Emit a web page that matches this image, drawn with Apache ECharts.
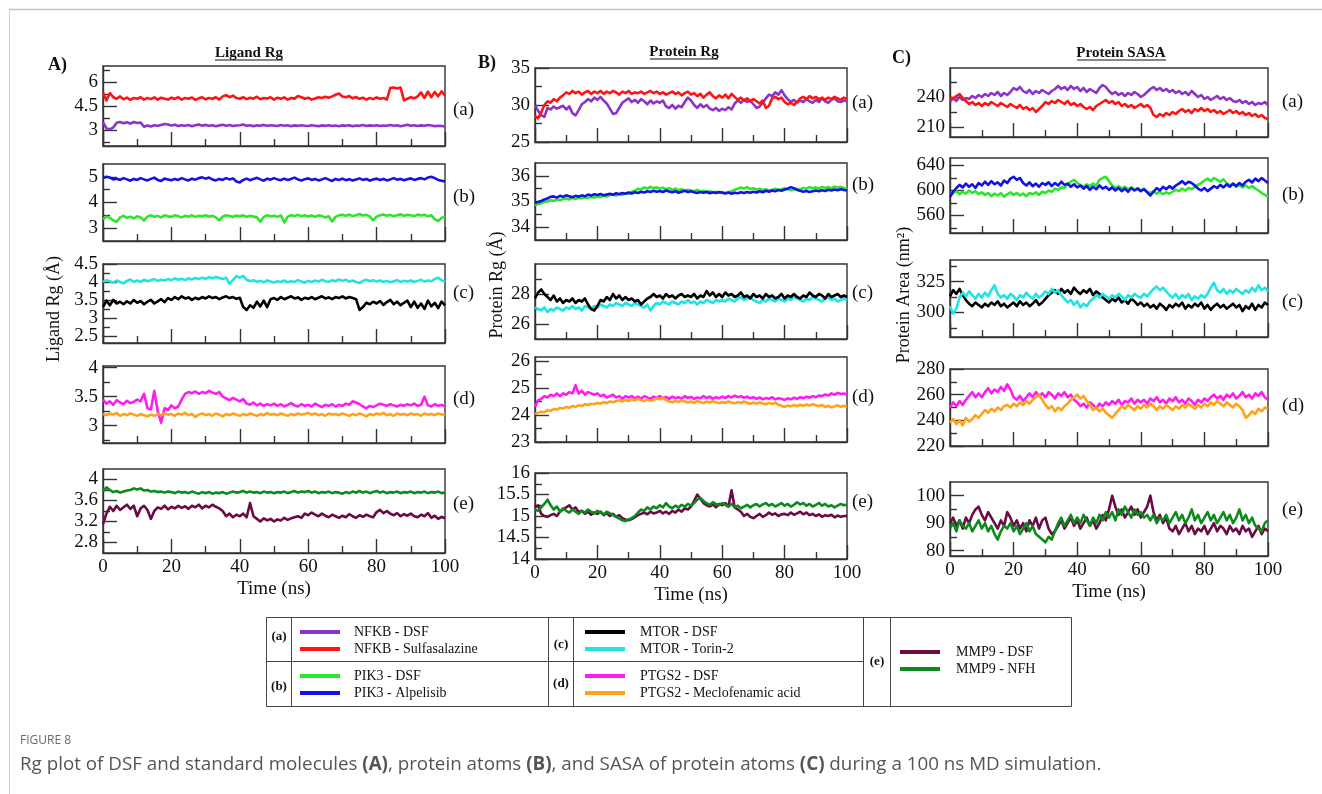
<!DOCTYPE html>
<html><head><meta charset="utf-8">
<script src="https://cdn.jsdelivr.net/npm/echarts@6/dist/echarts.min.js"></script>
<style>html,body{margin:0;padding:0;background:#fff}#c{width:1322px;height:794px}</style>
</head><body><div id="c"></div><script>
// ---------------- DATA ----------------
const TIME_NS = Array.from({length: 101}, (_, i) => i);   // 0..100 ns, 1 ns step

// Column A : Ligand Rg (Å)
const A_a_NFKB_DSF = [3.5,3.1,3.05,3.15,3.45,3.5,3.42,3.48,3.4,3.5, 3.44,3.47,3.2,3.28,3.22,3.3,3.26,3.32,3.38,3.34, 3.28,3.33,3.25,3.3,3.27,3.31,3.24,3.3,3.34,3.27, 3.32,3.26,3.3,3.24,3.29,3.33,3.27,3.31,3.25,3.28, 3.3,3.34,3.26,3.3,3.23,3.29,3.27,3.32,3.26,3.3, 3.28,3.25,3.31,3.27,3.3,3.24,3.29,3.26,3.3,3.27, 3.25,3.3,3.27,3.24,3.29,3.26,3.3,3.25,3.28,3.24, 3.29,3.26,3.3,3.24,3.28,3.26,3.31,3.25,3.29,3.27, 3.3,3.25,3.28,3.26,3.31,3.27,3.3,3.24,3.28,3.33, 3.27,3.3,3.25,3.29,3.26,3.31,3.28,3.24,3.27,3.25, 3.22];
const A_a_NFKB_SUL = [5.35,4.85,5.3,5.05,4.95,5.1,4.92,5.02,4.88,5.0, 4.95,5.05,4.9,5.0,4.93,5.04,4.9,5.02,4.96,4.9, 5.02,4.94,5.05,4.9,5.0,4.95,5.03,4.88,4.98,5.04, 4.92,5.0,4.95,5.05,4.9,5.1,5.18,5.05,5.15,5.0, 4.95,5.05,4.93,5.02,4.96,5.08,4.92,5.0,4.97,5.05, 4.9,5.02,4.95,5.04,4.9,5.0,4.96,5.12,5.05,4.95, 5.02,4.9,4.97,5.05,5.0,5.08,5.02,5.1,5.2,5.28, 5.1,5.05,5.12,4.98,5.06,4.95,5.02,4.9,5.0,4.93, 5.04,4.95,5.0,4.9,5.62,5.66,5.6,5.65,4.85,4.95, 5.05,4.98,5.1,5.35,5.0,5.4,5.05,5.38,5.1,5.42, 5.15];
const A_b_PIK3_DSF = [3.35,3.45,3.4,3.3,3.25,3.42,3.48,3.4,3.45,3.38, 3.46,3.42,3.3,3.45,3.5,3.44,3.48,3.42,3.5,3.46, 3.44,3.5,3.47,3.42,3.48,3.45,3.5,3.44,3.48,3.46, 3.5,3.45,3.48,3.42,3.3,3.45,3.5,3.47,3.44,3.49, 3.46,3.5,3.44,3.48,3.45,3.42,3.25,3.44,3.5,3.46, 3.48,3.44,3.5,3.22,3.45,3.5,3.47,3.52,3.46,3.5, 3.45,3.49,3.44,3.5,3.47,3.42,3.46,3.26,3.44,3.5, 3.52,3.48,3.53,3.47,3.5,3.55,3.49,3.52,3.46,3.3, 3.45,3.5,3.53,3.48,3.52,3.46,3.5,3.54,3.48,3.52, 3.5,3.47,3.53,3.49,3.52,3.46,3.5,3.35,3.28,3.4, 3.45];
const A_b_PIK3_ALP = [4.95,5.0,4.97,4.9,4.93,4.88,4.95,4.9,4.85,4.92, 4.88,4.95,4.9,4.86,4.92,4.97,4.88,4.84,4.93,4.9, 4.87,4.92,4.88,4.95,4.9,4.86,4.93,4.89,4.95,4.98, 4.93,4.97,4.9,4.86,4.92,4.88,4.95,4.9,4.94,4.82, 4.78,4.88,4.93,4.87,4.92,4.96,4.9,4.85,4.93,4.89, 4.95,4.9,4.87,4.93,4.88,4.92,4.97,4.9,4.86,4.91, 4.94,4.88,4.92,4.86,4.9,4.95,4.89,4.84,4.92,4.88, 4.93,4.87,4.91,4.86,4.9,4.94,4.88,4.92,4.85,4.9, 4.93,4.88,4.92,4.86,4.9,4.95,4.89,4.92,4.87,4.91, 4.94,4.88,4.92,4.95,4.9,4.97,5.0,4.95,4.88,4.85, 4.82];
const A_c_MTOR_DSF = [3.3,3.48,3.35,3.5,3.4,3.45,3.38,3.46,3.4,3.5, 3.42,3.47,3.38,3.45,3.5,3.4,3.46,3.52,3.44,3.55, 3.5,3.58,3.52,3.6,3.54,3.57,3.5,3.56,3.52,3.58, 3.54,3.6,3.55,3.58,3.52,3.57,3.6,3.55,3.58,3.53, 3.56,3.3,3.22,3.35,3.28,3.45,3.32,3.48,3.3,3.52, 3.55,3.5,3.58,3.52,3.56,3.6,3.54,3.57,3.5,3.56, 3.53,3.58,3.52,3.56,3.6,3.54,3.57,3.52,3.58,3.55, 3.6,3.54,3.58,3.55,3.52,3.22,3.3,3.42,3.38,3.45, 3.4,3.47,3.36,3.44,3.5,3.38,3.45,3.35,3.42,3.48, 3.3,3.45,3.28,3.4,3.25,3.48,3.32,3.42,3.27,3.45, 3.35];
const A_c_MTOR_TOR = [4.0,4.05,4.02,3.98,4.04,4.0,3.96,4.03,4.07,4.0, 4.04,4.0,4.06,4.02,4.05,4.08,4.03,4.06,4.04,4.08, 4.05,4.1,4.06,4.09,4.05,4.1,4.07,4.11,4.08,4.12, 4.09,4.13,4.1,4.14,4.11,4.08,4.12,3.95,4.05,4.16, 4.12,4.17,4.06,4.02,4.05,4.0,4.03,3.99,4.04,4.01, 3.98,4.02,4.0,4.04,3.99,4.02,4.0,4.05,4.01,3.98, 4.03,4.0,4.04,4.01,4.06,4.02,4.0,4.05,4.02,4.07, 4.03,4.06,4.01,4.04,4.0,3.97,4.03,4.06,4.02,4.05, 4.01,4.04,4.0,4.03,3.99,4.02,4.05,4.0,4.03,4.01, 4.04,4.0,4.03,4.06,4.01,4.04,4.02,4.08,4.12,4.05, 4.0];
const A_d_PTGS2_DSF = [3.45,3.38,3.42,3.36,3.44,3.4,3.37,3.43,3.39,3.41, 3.45,3.42,3.55,3.3,3.28,3.6,3.25,3.05,3.3,3.27, 3.35,3.3,3.33,3.45,3.55,3.58,3.56,3.59,3.55,3.58, 3.56,3.6,3.57,3.55,3.58,3.5,3.47,3.44,3.48,3.45, 3.42,3.46,3.38,3.36,3.4,3.35,3.38,3.34,3.37,3.35, 3.38,3.34,3.37,3.33,3.36,3.39,3.35,3.33,3.37,3.34, 3.36,3.33,3.38,3.35,3.32,3.36,3.34,3.37,3.33,3.36, 3.34,3.38,3.36,3.42,3.4,3.37,3.33,3.3,3.34,3.32, 3.35,3.38,3.36,3.34,3.37,3.35,3.33,3.36,3.34,3.37, 3.35,3.38,3.34,3.36,3.5,3.35,3.33,3.37,3.34,3.36, 3.33];
const A_d_PTGS2_MEC = [3.2,3.18,3.21,3.19,3.22,3.17,3.2,3.18,3.21,3.19, 3.17,3.2,3.18,3.16,3.19,3.17,3.2,3.18,3.21,3.19, 3.2,3.17,3.21,3.19,3.22,3.18,3.2,3.15,3.19,3.21, 3.18,3.2,3.17,3.21,3.19,3.16,3.2,3.18,3.21,3.19, 3.17,3.2,3.18,3.21,3.19,3.17,3.2,3.18,3.22,3.19, 3.2,3.18,3.21,3.19,3.17,3.2,3.18,3.21,3.19,3.2, 3.22,3.19,3.21,3.18,3.2,3.17,3.21,3.19,3.2,3.18, 3.21,3.19,3.17,3.2,3.18,3.21,3.19,3.16,3.2,3.18, 3.21,3.19,3.22,3.18,3.2,3.17,3.21,3.19,3.2,3.18, 3.21,3.19,3.2,3.17,3.21,3.19,3.2,3.18,3.21,3.19, 3.2];
const A_e_MMP9_DSF = [3.15,3.35,3.48,3.4,3.5,3.42,3.47,3.52,3.44,3.5, 3.3,3.45,3.5,3.42,3.25,3.4,3.47,3.44,3.5,3.43, 3.48,3.45,3.5,3.46,3.49,3.44,3.5,3.47,3.52,3.45, 3.5,3.47,3.52,3.48,3.45,3.4,3.3,3.35,3.28,3.33, 3.3,3.35,3.28,3.55,3.3,3.25,3.2,3.26,3.22,3.25, 3.2,3.24,3.22,3.27,3.23,3.26,3.28,3.3,3.27,3.35, 3.32,3.37,3.33,3.3,3.35,3.31,3.28,3.33,3.3,3.27, 3.31,3.28,3.34,3.3,3.27,3.32,3.29,3.33,3.3,3.28, 3.38,3.42,3.36,3.4,3.35,3.32,3.36,3.3,3.34,3.31, 3.35,3.3,3.28,3.33,3.3,3.36,3.27,3.31,3.25,3.29, 3.26];
const A_e_MMP9_NFH = [3.78,3.85,3.8,3.76,3.78,3.75,3.77,3.79,3.8,3.83, 3.81,3.83,3.79,3.8,3.77,3.78,3.76,3.77,3.75,3.77, 3.76,3.74,3.77,3.75,3.76,3.74,3.77,3.75,3.73,3.76, 3.74,3.76,3.73,3.75,3.74,3.76,3.73,3.75,3.77,3.75, 3.76,3.78,3.75,3.77,3.75,3.76,3.74,3.77,3.75,3.76, 3.74,3.76,3.75,3.77,3.74,3.76,3.78,3.75,3.77,3.76, 3.78,3.75,3.77,3.74,3.76,3.75,3.77,3.74,3.76,3.75, 3.73,3.76,3.74,3.77,3.75,3.78,3.75,3.77,3.74,3.76, 3.78,3.75,3.77,3.74,3.76,3.75,3.77,3.74,3.76,3.75, 3.77,3.74,3.76,3.75,3.77,3.74,3.76,3.75,3.77,3.74, 3.75];

// Column B : Protein Rg (Å)
const B_a_NFKB_DSF = [30.0,29.2,28.6,28.4,29.6,29.4,29.8,29.5,29.7,29.9, 29.4,29.8,28.9,28.6,29.3,30.1,30.4,30.8,30.5,31.0, 30.7,31.1,30.6,30.2,29.5,28.8,28.9,29.6,30.3,30.6, 30.9,30.4,30.7,30.3,30.8,30.5,30.1,30.6,30.2,30.5, 30.3,30.6,29.8,29.6,30.0,29.5,29.9,29.7,30.4,31.0, 30.6,30.0,29.6,30.1,29.7,30.0,29.5,29.3,29.6,29.2, 29.5,29.3,29.7,29.4,30.2,30.6,30.3,30.7,30.4,30.6, 30.1,29.6,29.8,30.3,30.9,31.4,31.2,31.7,31.4,32.0, 31.3,30.8,30.4,30.7,30.3,30.6,30.4,30.8,30.5,30.3, 30.7,30.4,30.9,30.5,30.3,30.7,30.9,30.5,30.4,30.6, 30.5];
const B_a_NFKB_SUL = [28.5,28.2,29.0,30.0,30.5,30.3,30.8,30.5,31.0,31.3, 31.7,31.5,31.9,31.6,31.8,31.4,31.7,31.9,31.5,31.8, 31.6,31.9,31.5,31.8,31.6,31.9,31.7,31.4,31.8,31.6, 31.9,31.5,31.7,31.6,31.8,31.5,31.7,31.9,31.6,31.8, 31.5,31.7,31.4,31.6,31.8,31.5,31.7,31.3,31.6,31.8, 31.4,31.6,31.2,31.5,31.0,31.4,31.7,31.2,30.9,31.3, 31.0,31.4,30.9,31.5,31.1,30.7,31.0,30.6,30.9,30.5, 30.8,30.5,30.2,30.6,29.6,29.9,30.9,31.1,30.8,31.0, 30.4,30.1,30.3,30.0,30.4,30.9,31.1,30.8,31.2,30.9, 31.1,30.8,31.0,30.7,31.0,30.8,31.1,30.9,30.7,31.0, 30.8];
const B_b_PIK3_DSF = [34.85,34.9,34.93,34.98,35.0,35.05,35.02,35.08,35.05,35.1, 35.12,35.08,35.14,35.1,35.15,35.12,35.17,35.13,35.18,35.15, 35.2,35.17,35.22,35.19,35.24,35.27,35.23,35.3,35.26,35.33, 35.3,35.38,35.42,35.5,35.47,35.55,35.5,35.57,35.52,35.55, 35.5,35.54,35.48,35.52,35.45,35.5,35.44,35.48,35.42,35.46, 35.43,35.4,35.45,35.38,35.42,35.36,35.4,35.35,35.38,35.34, 35.37,35.33,35.36,35.4,35.45,35.5,35.55,35.5,35.56,35.48, 35.52,35.46,35.5,35.44,35.48,35.42,35.46,35.5,35.45,35.48, 35.52,35.48,35.44,35.47,35.5,35.46,35.53,35.5,35.56,35.52, 35.55,35.5,35.57,35.53,35.56,35.52,35.58,35.54,35.57,35.53, 35.5];
const B_b_PIK3_ALP = [34.95,34.98,35.02,35.08,35.12,35.18,35.2,35.15,35.22,35.18, 35.24,35.2,35.17,35.22,35.19,35.24,35.2,35.27,35.23,35.28, 35.25,35.29,35.24,35.27,35.3,35.26,35.32,35.28,35.33,35.3, 35.35,35.31,35.36,35.33,35.38,35.35,35.4,35.37,35.42,35.38, 35.41,35.37,35.43,35.39,35.36,35.4,35.34,35.38,35.42,35.37, 35.4,35.36,35.33,35.37,35.34,35.38,35.32,35.36,35.33,35.37, 35.34,35.31,35.35,35.3,35.34,35.32,35.36,35.33,35.37,35.34, 35.38,35.35,35.4,35.36,35.42,35.38,35.43,35.4,35.45,35.42, 35.47,35.5,35.56,35.52,35.45,35.42,35.38,35.41,35.37,35.4, 35.43,35.4,35.44,35.41,35.46,35.43,35.47,35.44,35.48,35.45, 35.43];
const B_c_MTOR_DSF = [27.7,28.1,28.3,28.0,27.8,27.6,27.9,27.5,27.7,27.4, 27.6,27.5,27.7,27.4,27.6,27.5,27.7,27.3,27.0,26.9, 27.2,27.6,27.5,27.8,27.6,28.0,27.7,27.9,27.6,27.8, 27.6,27.7,27.5,27.6,27.3,27.5,27.7,27.8,28.0,27.8, 27.9,27.7,28.0,27.8,27.9,27.7,27.9,28.0,27.8,27.9, 27.8,28.0,27.7,27.9,27.8,28.2,27.9,28.1,27.8,28.0, 27.8,28.1,27.9,28.0,27.8,27.9,28.1,27.8,27.9,27.7, 28.0,27.8,27.9,27.7,28.0,27.8,27.9,27.7,27.8,28.0, 27.7,27.9,27.8,28.0,27.8,27.7,27.9,27.8,28.1,27.9, 27.8,28.0,27.9,27.7,28.0,27.8,27.9,28.0,27.8,27.9, 27.8];
const B_c_MTOR_TOR = [27.1,27.0,26.9,27.1,26.8,27.0,26.9,27.1,27.0,26.9, 27.1,27.0,27.2,27.0,27.1,26.9,27.2,27.1,27.0,27.2, 27.1,27.3,27.2,27.1,27.3,27.2,27.4,27.3,27.2,27.4, 27.3,27.2,27.4,27.3,27.2,27.1,27.3,26.9,27.2,27.4, 27.3,27.5,27.4,27.3,27.5,27.4,27.3,27.5,27.4,27.6, 27.4,27.5,27.3,27.5,27.4,27.6,27.5,27.4,27.6,27.5, 27.6,27.5,27.7,27.6,27.5,27.7,27.8,27.6,27.7,27.8, 27.6,27.5,27.4,27.6,27.5,27.7,27.6,27.5,27.7,27.6, 27.5,27.7,27.6,27.8,27.7,27.6,27.5,27.7,27.6,27.8, 27.7,27.6,27.5,27.7,27.8,27.6,27.7,27.5,27.6,27.7, 27.6];
const B_d_PTGS2_DSF = [24.3,24.55,24.6,24.7,24.65,24.75,24.7,24.8,24.7,24.8, 24.75,24.85,24.8,25.1,24.8,24.9,24.75,24.85,24.8,24.75, 24.8,24.7,24.75,24.65,24.7,24.75,24.65,24.7,24.6,24.7, 24.65,24.7,24.62,24.68,24.6,24.7,24.65,24.6,24.68,24.63, 24.7,24.62,24.67,24.6,24.68,24.62,24.66,24.6,24.7,24.63, 24.67,24.6,24.65,24.62,24.7,24.63,24.68,24.6,24.66,24.62, 24.68,24.63,24.7,24.65,24.72,24.66,24.7,24.64,24.68,24.62, 24.66,24.6,24.65,24.58,24.63,24.6,24.66,24.58,24.62,24.6, 24.56,24.62,24.58,24.64,24.6,24.66,24.62,24.68,24.64,24.7, 24.66,24.72,24.7,24.76,24.72,24.8,24.75,24.82,24.78,24.8, 24.75];
const B_d_PTGS2_MEC = [24.05,24.08,24.12,24.1,24.18,24.15,24.22,24.2,24.26,24.24, 24.3,24.27,24.33,24.3,24.36,24.33,24.4,24.37,24.42,24.4, 24.45,24.42,24.48,24.44,24.5,24.47,24.52,24.55,24.5,24.56, 24.52,24.58,24.54,24.6,24.55,24.52,24.57,24.53,24.56,24.62, 24.58,24.65,24.55,24.5,24.47,24.52,24.48,24.54,24.5,24.46, 24.5,24.45,24.52,24.48,24.44,24.5,24.46,24.52,24.47,24.44, 24.48,24.45,24.5,24.46,24.43,24.48,24.44,24.5,24.45,24.42, 24.46,24.42,24.47,24.43,24.4,24.45,24.41,24.46,24.38,24.34, 24.3,24.35,24.32,24.37,24.33,24.38,24.34,24.39,24.35,24.4, 24.36,24.33,24.37,24.3,24.34,24.28,24.32,24.36,24.3,24.34, 24.3];
const B_e_MMP9_DSF = [15.2,15.25,15.05,15.0,14.98,15.02,15.05,15.0,15.1,15.15, 15.2,15.25,15.15,15.2,15.1,15.12,15.05,15.1,15.03,15.08, 15.05,15.1,15.02,15.07,15.0,15.05,14.98,15.02,14.95,14.92, 14.9,14.93,14.97,15.02,15.05,15.08,15.04,15.1,15.06,15.08, 15.12,15.06,15.1,15.05,15.12,15.08,15.15,15.1,15.18,15.15, 15.22,15.35,15.5,15.4,15.3,15.25,15.22,15.27,15.2,15.28, 15.25,15.3,15.22,15.6,15.2,15.15,15.1,15.0,15.05,14.98, 14.95,15.0,15.05,14.98,15.02,15.08,15.03,15.06,15.0,15.04, 15.05,15.02,15.08,15.03,15.06,15.1,15.04,15.08,15.02,15.05, 15.0,15.04,14.98,15.02,15.0,15.03,14.97,15.01,14.98,15.0, 15.0];
const B_e_MMP9_NFH = [15.15,15.12,15.2,15.28,15.38,15.25,15.15,15.22,15.1,15.18, 15.12,15.08,15.15,15.1,15.05,15.12,15.08,15.15,15.1,15.06, 15.12,15.08,15.04,15.1,15.06,15.02,14.98,14.94,14.9,14.88, 14.92,14.95,15.0,15.08,15.15,15.12,15.2,15.15,15.22,15.18, 15.25,15.2,15.3,15.22,15.18,15.24,15.2,15.26,15.22,15.28, 15.24,15.3,15.38,15.42,15.35,15.3,15.26,15.32,15.28,15.25, 15.3,15.26,15.22,15.28,15.2,15.24,15.18,15.22,15.26,15.2, 15.25,15.28,15.22,15.27,15.3,15.24,15.28,15.22,15.26,15.3, 15.24,15.28,15.22,15.26,15.32,15.27,15.3,15.24,15.28,15.22, 15.26,15.3,15.24,15.28,15.22,15.25,15.2,15.24,15.28,15.25, 15.27];

// Column C : Protein SASA (nm²)
const C_a_NFKB_DSF = [235,239,236,240,237,239,238,241,239,242, 240,243,241,244,242,245,241,244,242,245, 249,247,250,246,244,247,243,246,244,247, 245,243,246,248,251,248,250,247,251,248, 250,246,249,245,248,246,244,249,252,250, 246,243,245,242,244,241,244,242,245,243, 240,242,245,248,250,247,249,246,248,245, 247,244,246,243,245,242,246,243,240,242, 238,240,237,239,241,238,240,237,239,236, 235,237,234,236,233,235,232,234,233,235, 232];
const C_a_NFKB_SUL = [240,238,241,243,239,236,233,235,232,234, 231,234,232,235,233,231,234,232,230,233, 231,229,232,228,230,227,229,225,228,231, 235,233,236,234,237,235,233,236,232,234, 231,233,230,228,230,227,231,233,235,237, 234,236,233,235,231,233,230,232,229,231, 233,230,232,229,222,220,223,221,224,222, 225,223,226,228,225,227,224,228,226,229, 226,228,225,227,224,226,223,225,227,224, 226,223,225,222,224,221,223,220,222,219, 218];
const C_b_PIK3_DSF = [592,596,599,594,598,595,600,596,599,594, 597,593,596,591,595,592,596,590,594,597, 593,596,592,595,591,596,594,597,593,598, 596,600,598,603,601,605,604,610,614,617, 612,609,606,610,607,611,608,617,620,622, 615,608,604,607,603,606,602,605,601,604, 600,603,598,596,599,595,598,594,597,595, 598,601,599,603,600,604,602,606,609,612, 616,619,615,620,617,614,618,612,608,611, 606,609,605,608,604,607,603,600,596,593, 590];
const C_b_PIK3_ALP = [590,598,604,609,605,611,606,610,604,612, 608,614,609,615,610,613,608,616,612,619, 622,617,620,612,608,613,607,611,606,612, 609,613,607,612,608,614,609,611,606,610, 605,608,603,607,601,606,602,608,603,606, 601,605,600,604,599,603,598,604,600,603, 599,602,597,592,598,604,600,606,602,607, 603,608,611,615,610,614,612,608,603,600, 604,599,603,607,604,609,605,610,606,611, 607,612,608,614,617,613,619,615,620,616, 612];
const C_c_MTOR_DSF = [313,318,315,319,314,310,307,305,308,306, 304,307,305,308,306,309,305,307,304,306, 308,305,309,306,308,305,307,310,306,308, 311,314,316,318,315,319,316,318,315,320, 317,315,318,316,319,314,317,315,312,310, 308,311,309,312,308,310,307,311,309,306, 308,305,307,304,306,303,307,305,302,306, 304,307,305,308,303,306,304,307,305,308, 303,306,302,305,307,304,306,303,305,307, 304,306,301,305,303,307,302,306,304,308, 306];
const C_c_MTOR_TOR = [305,299,303,312,316,313,317,314,311,315, 312,316,313,318,322,315,312,314,311,315, 313,310,314,312,316,313,311,315,312,314, 317,315,319,316,318,314,311,308,310,306, 309,304,307,305,309,311,314,312,315,313, 311,314,312,315,313,310,314,312,315,313, 312,315,313,316,319,321,318,320,317,314, 312,315,311,314,312,315,310,313,311,314, 312,315,320,324,318,316,319,315,318,316, 319,317,315,318,316,320,317,322,318,320, 317];
const C_d_PTGS2_DSF = [250,254,251,255,252,256,259,262,258,261, 258,262,265,261,264,262,266,263,268,264, 258,256,259,255,258,261,258,262,259,261, 258,262,260,257,261,259,262,258,260,256, 254,251,253,250,254,252,249,253,251,254, 252,255,253,256,252,255,254,257,253,256, 254,256,253,257,255,258,254,256,253,257, 255,258,254,256,253,257,255,252,256,254, 257,255,258,260,257,259,256,260,258,261, 257,259,262,258,260,257,261,259,262,258, 256];
const C_d_PTGS2_MEC = [238,241,237,240,236,242,239,241,244,242, 245,248,246,249,247,250,248,251,252,250, 253,251,254,252,255,253,256,258,260,256, 252,249,251,247,250,248,251,253,256,258, 260,257,259,255,252,248,250,247,249,246, 244,242,245,248,251,249,252,250,248,251, 249,252,250,253,251,248,251,249,252,250, 248,251,249,252,250,253,251,249,252,250, 253,251,254,252,255,253,251,254,252,250, 253,251,248,242,244,247,245,249,247,250, 249];
const C_e_MMP9_DSF = [90,92,89,91,88,92,90,93,95,96, 93,91,94,92,90,88,91,89,94,92, 89,91,88,90,87,91,89,92,88,91, 92,88,86,87,89,91,88,90,92,89, 91,88,90,92,89,91,88,90,93,91, 95,100,96,93,95,92,94,96,93,95, 92,94,96,100,94,91,93,90,92,88, 87,89,86,88,90,87,89,86,88,87, 89,86,88,90,87,89,88,86,89,87, 88,86,89,87,88,85,87,89,86,88, 87];
const C_e_MMP9_NFH = [88,90,87,91,89,88,90,87,89,91, 88,90,87,89,86,84,87,89,88,90, 87,89,86,88,90,87,89,86,85,84, 83,85,84,87,90,92,89,91,93,90, 92,90,93,91,89,92,90,93,91,94, 92,94,91,95,93,96,94,92,95,93, 94,92,93,91,93,90,92,91,93,90, 92,94,91,93,90,92,95,91,93,90, 92,94,91,93,90,92,94,91,93,90, 92,95,91,93,90,92,89,88,87,90, 91];

// Y-axis tick labels (major) and minor ticks per panel
const TICKS_A = [[3,4.5,6],[3,4,5],[2.5,3,3.5,4,4.5],[3,3.5,4],[2.8,3.2,3.6,4]];
const MINOR_A = [[2.25,3.75,5.25,6.75],[3.5,4.5],[2.75,3.25,3.75,4.25],[2.75,3.25,3.75],[3.0,3.4,3.8]];
const TICKS_B = [[25,30,35],[34,35,36],[26,28],[23,24,25,26],[14,14.5,15,15.5,16]];
const MINOR_B = [[27.5,32.5],[34.5,35.5],[27,29],[23.5,24.5,25.5],[14.25,14.75,15.25,15.75]];
const TICKS_C = [[210,240],[560,600,640],[300,325],[220,240,260,280],[80,90,100]];
const MINOR_C = [[225,255],[540,580,620],[287.5,312.5,337.5],[230,250,270],[85,95]];
const PANEL_TAGS = ['(a)','(b)','(c)','(d)','(e)'];
const LEGEND_ITEMS = [
  ['(a)', 'NFKB - DSF', 'NFKB - Sulfasalazine'],
  ['(b)', 'PIK3 - DSF', 'PIK3 - Alpelisib'],
  ['(c)', 'MTOR - DSF', 'MTOR - Torin-2'],
  ['(d)', 'PTGS2 - DSF', 'PTGS2 - Meclofenamic acid'],
  ['(e)', 'MMP9 - DSF', 'MMP9 - NFH']
];

// ---------------- STYLE / LAYOUT ----------------
const COL = {purple:'#8b34c9', red:'#ff1414', green:'#2be62b', blue:'#1212e6', black:'#000000',
  cyan:'#22e3e3', magenta:'#ff1cf0', orange:'#ffa21a', maroon:'#6b0a45', dkgreen:'#0c8a1e'};
const SERIF = "'Liberation Serif','Times New Roman',serif";
const AX = '#333';

const COLS = [
  {left:103, width:342, rows:[[66,80],[164,77],[264,79],[366,77],[469,84]],
   ranges:[[2,7],[2.5,5.5],[2.3,4.5],[2.7,4.03],[2.6,4.2]], ticks:TICKS_A, minor:MINOR_A,
   tagX:453, tagY:[110,197,293,399,504], name:'Ligand Rg (Å)', nameX:54, nameY:309,
   series:[[[A_a_NFKB_DSF,'purple'],[A_a_NFKB_SUL,'red']],[[A_b_PIK3_DSF,'green'],[A_b_PIK3_ALP,'blue']],
           [[A_c_MTOR_TOR,'cyan'],[A_c_MTOR_DSF,'black']],[[A_d_PTGS2_DSF,'magenta'],[A_d_PTGS2_MEC,'orange']],
           [[A_e_MMP9_DSF,'maroon'],[A_e_MMP9_NFH,'dkgreen']]]},
  {left:535, width:312, rows:[[68,74],[163,77],[264,75],[357,85],[473,86]],
   ranges:[[25,35],[33.5,36.5],[25,30],[23,26.15],[14,16]], ticks:TICKS_B, minor:MINOR_B,
   tagX:852, tagY:[103,185,293,397,502], name:'Protein Rg (Å)', nameX:497, nameY:285,
   series:[[[B_a_NFKB_DSF,'purple'],[B_a_NFKB_SUL,'red']],[[B_b_PIK3_DSF,'green'],[B_b_PIK3_ALP,'blue']],
           [[B_c_MTOR_TOR,'cyan'],[B_c_MTOR_DSF,'black']],[[B_d_PTGS2_DSF,'magenta'],[B_d_PTGS2_MEC,'orange']],
           [[B_e_MMP9_DSF,'maroon'],[B_e_MMP9_NFH,'dkgreen']]]},
  {left:950, width:318, rows:[[68,69],[158,75],[260,77],[369,77],[482,74]],
   ranges:[[200,269],[532,652],[280,342.5],[220,280],[78,105]], ticks:TICKS_C, minor:MINOR_C,
   tagX:1282, tagY:[102,195,302,406,510], name:'Protein Area (nm²)', nameX:904, nameY:295,
   series:[[[C_a_NFKB_DSF,'purple'],[C_a_NFKB_SUL,'red']],[[C_b_PIK3_DSF,'green'],[C_b_PIK3_ALP,'blue']],
           [[C_c_MTOR_DSF,'black'],[C_c_MTOR_TOR,'cyan']],[[C_d_PTGS2_DSF,'magenta'],[C_d_PTGS2_MEC,'orange']],
           [[C_e_MMP9_DSF,'maroon'],[C_e_MMP9_NFH,'dkgreen']]]}
];

const grids = [], xAxes = [], yAxes = [], series = [], graphic = [];
let gi = 0;
const txt = (x, y, text, font, align, extra) => Object.assign({type:'text', x, y, silent:true,
  style:{text, font, fill:'#111', textAlign:align, textVerticalAlign:'middle', align, verticalAlign:'middle'}}, extra || {});
const yLabelStyle = (vals) => ({show:true, customValues:vals, color:'#111', fontFamily:SERIF, fontSize:19, margin:5,
  hideOverlap:false, showMinLabel:true, showMaxLabel:true, formatter:(v)=>String(+(+v).toFixed(3))});
COLS.forEach((c) => {
  c.rows.forEach((r, ri) => {
    const bottom = ri === 4;
    grids.push({left:c.left, top:r[0], width:c.width, height:r[1], show:true, borderColor:AX, borderWidth:1.4,
      backgroundColor:'#fff', containLabel:false, outerBoundsMode:'none'});
    xAxes.push({type:'value', gridIndex:gi, min:0, max:100, interval:20,
      axisLine:{show:true, lineStyle:{color:AX, width:1.4}},
      axisTick:{show:true, inside:true, length:14, lineStyle:{color:AX, width:1.4}},
      minorTick:{show:true, splitNumber:2, length:7, lineStyle:{color:AX, width:1.4}},
      splitLine:{show:false}, minorSplitLine:{show:false},
      axisLabel:{show:bottom, color:'#111', fontFamily:SERIF, fontSize:19, margin:5, hideOverlap:false,
        showMinLabel:true, showMaxLabel:true}});
    const rg = c.ranges[ri];
    const tk = c.ticks[ri];
    // labels split over the two stacked y axes so that tightly packed labels are never auto-hidden
    const evenLabels = tk.filter((_, k) => k % 2 === 0);
    const oddLabels = tk.filter((_, k) => k % 2 === 1);
    yAxes.push({type:'value', gridIndex:gi, min:rg[0], max:rg[1], position:'left',
      axisLine:{show:true, lineStyle:{color:AX, width:1.4}},
      axisTick:{show:true, inside:true, length:14, customValues:tk, lineStyle:{color:AX, width:1.4}},
      axisLabel:yLabelStyle(evenLabels), splitLine:{show:false}});
    yAxes.push({type:'value', gridIndex:gi, min:rg[0], max:rg[1], position:'left',
      axisLine:{show:false},
      axisTick:{show:true, inside:true, length:7, customValues:c.minor[ri], lineStyle:{color:AX, width:1.4}},
      axisLabel:Object.assign(yLabelStyle(oddLabels.length ? oddLabels : []), {show: oddLabels.length > 0}),
      splitLine:{show:false}});
    c.series[ri].forEach(([vals, colName]) => {
      series.push({type:'line', xAxisIndex:gi, yAxisIndex:2*gi, showSymbol:false, symbol:'none',
        data: TIME_NS.map((t, k) => [t, vals[k]]), lineStyle:{color:COL[colName], width:2.6, join:'round'},
        itemStyle:{color:COL[colName]}, silent:true, animation:false, clip:true});
    });
    graphic.push(txt(c.tagX, c.tagY[ri], PANEL_TAGS[ri], `19px ${SERIF}`, 'left'));
    gi++;
  });
  const lastRow = c.rows[4];
  graphic.push(txt(c.left + c.width/2, lastRow[0]+lastRow[1]+36, 'Time (ns)', `19px ${SERIF}`, 'center'));
  graphic.push(txt(c.nameX, c.nameY, c.name, `18px ${SERIF}`, 'center', {rotation:Math.PI/2}));
});

// headers
[['Ligand Rg',249,53],['Protein Rg',684,52],['Protein SASA',1121,53]].forEach(([t,x,y]) => {
  graphic.push(txt(x, y, t, `bold 15px ${SERIF}`, 'center'));
});
[[215,283,60],[650,718,59],[1077,1166,60]].forEach(([x1,x2,y]) => {
  graphic.push({type:'line', shape:{x1, y1:y, x2, y2:y}, style:{stroke:'#111', lineWidth:1}});
});
[['A)',48,65],['B)',478,63],['C)',892,58]].forEach(([t,x,y]) => {
  graphic.push(txt(x, y, t, `bold 18px ${SERIF}`, 'left'));
});

// Legend table
const LG = '#444';
graphic.push({type:'rect', shape:{x:266.5, y:617.5, width:805, height:89}, style:{fill:'#fff', stroke:LG, lineWidth:1}});
[291.5, 548.5, 573.5, 863.5, 890.5].forEach(x => graphic.push({type:'line', shape:{x1:x, y1:617.5, x2:x, y2:706.5}, style:{stroke:LG, lineWidth:1}}));
graphic.push({type:'line', shape:{x1:266.5, y1:661.5, x2:863.5, y2:661.5}, style:{stroke:LG, lineWidth:1}});
const legColors = [['purple','red'],['green','blue'],['black','cyan'],['magenta','orange'],['maroon','dkgreen']];
const legPos = [ {tag:[279,637], lx:300, tx:354, ys:[632,649]}, {tag:[279,687], lx:300, tx:354, ys:[676,693]},
  {tag:[561,645], lx:585, tx:640, ys:[632,649]}, {tag:[561,684], lx:585, tx:640, ys:[676,693]},
  {tag:[877,662], lx:900, tx:956, ys:[652,669]} ];
LEGEND_ITEMS.forEach((it, i) => {
  const p = legPos[i];
  graphic.push(txt(p.tag[0], p.tag[1], it[0], `bold 13px ${SERIF}`, 'center'));
  [1,2].forEach(j => {
    const y = p.ys[j-1];
    graphic.push({type:'line', shape:{x1:p.lx, y1:y, x2:p.lx+40, y2:y}, style:{stroke:COL[legColors[i][j-1]], lineWidth:4}});
    graphic.push(txt(p.tx, y, it[j], `14px ${SERIF}`, 'left'));
  });
});

// Frame + caption
graphic.push({type:'line', shape:{x1:9, y1:9.5, x2:1322, y2:9.5}, style:{stroke:'#c4c4c4', lineWidth:1.5}});
graphic.push({type:'line', shape:{x1:9.5, y1:9, x2:9.5, y2:794}, style:{stroke:'#d0d0d0', lineWidth:1}});
graphic.push({type:'text', x:20, y:741, style:{text:'FIGURE 8', font:"12px 'Open Sans','Noto Sans',sans-serif", fill:'#6a6a6a', textAlign:'left', textVerticalAlign:'middle', align:'left', verticalAlign:'middle'}});
graphic.push({type:'text', x:20, y:765, style:{
  text:'Rg plot of DSF and standard molecules {b|(A)}, protein atoms {b|(B)}, and SASA of protein atoms {b|(C)} during a 100 ns MD simulation.',
  font:"18.8px 'Open Sans','Noto Sans',sans-serif", fill:'#555', textAlign:'left', textVerticalAlign:'middle', align:'left', verticalAlign:'middle',
  rich:{b:{fontWeight:'bold', fontSize:18.8, fontFamily:"'Open Sans','Noto Sans',sans-serif", fill:'#555', color:'#555'}}}});

const chart = echarts.init(document.getElementById('c'), null, {renderer:'canvas', width:1322, height:794});
chart.setOption({animation:false, backgroundColor:'#ffffff', grid:grids, xAxis:xAxes, yAxis:yAxes, series, graphic});
</script></body></html>
